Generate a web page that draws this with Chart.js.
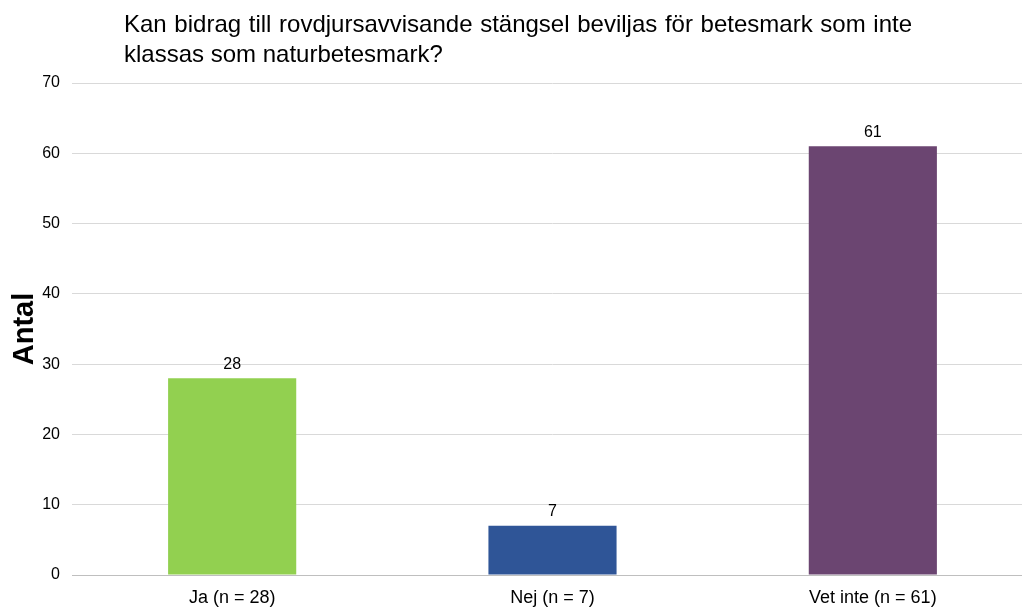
<!DOCTYPE html>
<html>
<head>
<meta charset="utf-8">
<script src="https://cdn.jsdelivr.net/npm/chart.js@4/dist/chart.umd.min.js"></script>
<style>
  html, body { margin: 0; padding: 0; background: #fff; overflow: hidden; }
  #wrap { position: relative; width: 1022px; height: 608px; overflow: hidden; }
  #title {
    position: absolute; left: 124px; top: 9px; width: 788px;
    font-family: "Liberation Sans", Arial, sans-serif; font-size: 24px;
    line-height: 30px; color: #000;
  }
  #title .l1 { text-align: justify; text-align-last: justify; white-space: nowrap; }
  canvas { position: absolute; left: 0; top: 0; }
</style>
</head>
<body>
<div id="wrap">
  <!-- plot runs slightly past the right edge, like the original -->
  <canvas id="chart" width="1033" height="608"></canvas>
  <div id="title"><div class="l1">Kan bidrag till rovdjursavvisande stängsel beviljas för betesmark som inte</div><div>klassas som naturbetesmark?</div></div>
</div>
<script>
// chart data
const categories = ["Ja (n = 28)", "Nej (n = 7)", "Vet inte (n = 61)"];
const counts = [28, 7, 61];
const barColors = ["#92D050", "#2F5597", "#6B4571"];
const yTicks = [0, 10, 20, 30, 40, 50, 60, 70];

const FONT = "'Liberation Sans', Arial, sans-serif";

// draws the value above each bar
const valueLabels = {
  id: "valueLabels",
  afterDatasetsDraw(chart) {
    const ctx = chart.ctx;
    const meta = chart.getDatasetMeta(0);
    ctx.save();
    ctx.font = "16px " + FONT;
    ctx.fillStyle = "#000";
    ctx.textAlign = "center";
    ctx.textBaseline = "bottom";
    meta.data.forEach((bar, i) => {
      ctx.fillText(counts[i], bar.x, bar.y - 6);
    });
    ctx.restore();
  },
};

const ctx = document.getElementById("chart").getContext("2d");
new Chart(ctx, {
  type: "bar",
  data: {
    labels: categories,
    datasets: [
      {
        data: counts,
        backgroundColor: barColors,
        categoryPercentage: 1,
        barPercentage: 0.4,
      },
    ],
  },
  options: {
    responsive: false,
    animation: false,
    layout: { padding: { top: 83, left: 8, right: 0, bottom: 0 } },
    plugins: { legend: { display: false }, tooltip: { enabled: false } },
    scales: {
      x: {
        grid: { display: false, drawTicks: false },
        border: { color: "#bfbfbf", width: 1 },
        afterFit: (s) => { s.height = 33; },
        ticks: {
          color: "#000",
          padding: 12,
          font: { family: FONT, size: 18 },
        },
      },
      y: {
        min: 0,
        max: 70,
        afterBuildTicks: (axis) => {
          axis.ticks = yTicks.map((v) => ({ value: v }));
        },
        afterFit: (s) => { s.width = 64; },
        grid: { color: "#d9d9d9", drawTicks: false },
        border: { display: false },
        ticks: {
          color: "#000",
          padding: 12,
          font: { family: FONT, size: 16 },
        },
        title: {
          display: true,
          text: "Antal",
          color: "#000",
          padding: { top: 0, bottom: 0 },
          font: { family: FONT, size: 29, weight: "bold" },
        },
      },
    },
  },
  plugins: [valueLabels],
});
</script>
</body>
</html>
